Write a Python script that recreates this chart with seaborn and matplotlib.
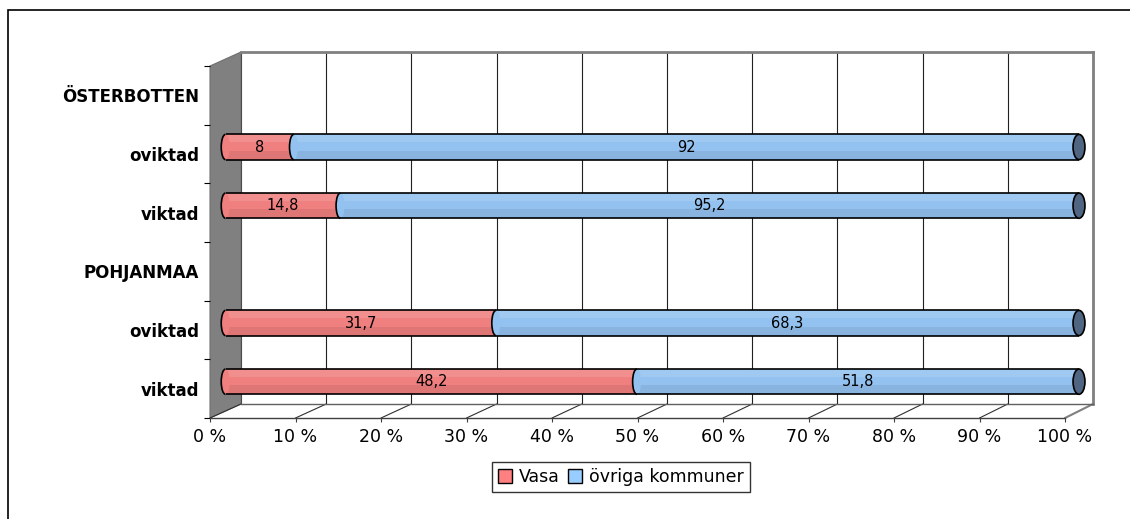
import matplotlib.pyplot as plt
import seaborn as sns
import pandas as pd
import numpy as np
from matplotlib.patches import Polygon, Ellipse, Arc, Rectangle, Patch
from matplotlib.lines import Line2D

# rows top to bottom (empty rows are group headers)
rows = ['r0', 'r1', 'r2', 'r3', 'r4', 'r5']
row_labels = ['ÖSTERBOTTEN', 'oviktad', 'viktad', 'POHJANMAA', 'oviktad', 'viktad']
vasa = [None, 8, 14.8, None, 31.7, 48.2]
ovriga = [None, 92, 95.2, None, 68.3, 51.8]
series = ['Vasa', 'övriga kommuner']
x_ticks = list(range(0, 101, 10))
x_ticklabels = [str(t) + ' %' for t in x_ticks]

red = '#F08080'
blue = '#93C2F0'
cap_col = '#4F6582'

df = pd.DataFrame({'row': rows, 'vasa': vasa, 'ovriga': ovriga}).dropna()
df['total'] = 100.0
df['vasa_pct'] = df['vasa'] / (df['vasa'] + df['ovriga']) * 100

sns.set_style('white')
plt.rcParams['font.family'] = ['DejaVu Sans']
plt.rcParams['text.color'] = 'black'
plt.rcParams['xtick.color'] = 'black'
plt.rcParams['ytick.color'] = 'black'

W, H = 1130, 519
fig = plt.figure(figsize=(W / 100, H / 100), dpi=100)


def box(x0, x1, ytop, ybot):
    return [x0 / W, 1 - ybot / H, (x1 - x0) / W, (ybot - ytop) / H]


ax_back = fig.add_axes(box(241, 1093, 52, 404), zorder=0)
ax_front = fig.add_axes(box(210, 1065, 66, 418), zorder=1)
ax = fig.add_axes(box(225.5, 1079, 59, 411), zorder=2)

# back wall
ax_back.set_xlim(0, 100)
ax_back.set_ylim(0, 1)
ax_back.set_xticks(x_ticks)
ax_back.set_yticks([])
ax_back.tick_params(axis='x', length=0, labelbottom=False)
ax_back.grid(axis='x', color='#202020', lw=0.8)
ax_back.grid(axis='y', visible=False)
for s in ['top', 'right']:
    ax_back.spines[s].set_color('#808080')
    ax_back.spines[s].set_linewidth(2)
ax_back.spines['bottom'].set_color('#606060')
ax_back.spines['bottom'].set_linewidth(1)
ax_back.spines['left'].set_visible(False)

# front plane: tick labels
ax_front.patch.set_visible(False)
ax_front.set_xlim(0, 100)
ax_front.set_ylim(len(rows) - 0.5, -0.5)
ax_front.set_xticks(x_ticks)
ax_front.set_xticklabels(x_ticklabels, fontsize=12.5)
ax_front.tick_params(axis='x', direction='out', length=3, width=0.8, color='#404040', pad=4, bottom=True)
ax_front.set_yticks(np.arange(len(rows) + 1) - 0.5)
ax_front.set_yticklabels([])
ax_front.set_yticks(np.arange(len(rows)), minor=True)
ax_front.set_yticklabels(row_labels, minor=True, fontsize=12, fontweight='bold')
ax_front.tick_params(axis='y', which='major', direction='out', length=4.5, width=0.8, color='k', left=True)
ax_front.tick_params(axis='y', which='minor', length=0, pad=8, left=True)
for s in ['top', 'right', 'left']:
    ax_front.spines[s].set_visible(False)
ax_front.spines['bottom'].set_color('#404040')
ax_front.spines['bottom'].set_linewidth(1)

to_fig = fig.transFigure.inverted()


def fpt(axis, x, y):
    return to_fig.transform(axis.get_xaxis_transform().transform((x, y)))


# grey side wall
wall = Polygon([fpt(ax_front, 0, 0), fpt(ax_front, 0, 1), fpt(ax_back, 0, 1), fpt(ax_back, 0, 0)],
               closed=True, fc='#808080', ec='#707070', lw=0.8,
               transform=fig.transFigure, clip_on=False)
ax_back.add_artist(wall)
# floor lines
for t in x_ticks:
    p0, p1 = fpt(ax_front, t, 0), fpt(ax_back, t, 0)
    c = '#808080' if t == 100 else '#303030'
    ax_back.add_artist(Line2D([p0[0], p1[0]], [p0[1], p1[1]], color=c, lw=0.8 if t < 100 else 1.5,
                              transform=fig.transFigure, clip_on=False))

# bars
bw = 0.43
sns.barplot(data=df, y='row', x='total', order=rows, color=blue, saturation=1, width=bw,
            edgecolor='none', orient='h', ax=ax)
sns.barplot(data=df, y='row', x='vasa_pct', order=rows, color=red, saturation=1, width=bw,
            edgecolor='none', orient='h', ax=ax)
ax.set_xlim(0, 100)
ax.set_ylim(len(rows) - 0.5, -0.5)
ax.axis('off')

ew = 1.0
h = bw / 2


def fmt(v):
    return ('%g' % v).replace('.', ',')


for _, r in df.iterrows():
    i = rows.index(r['row'])
    v = r['vasa_pct']
    # subtle shading
    ax.add_patch(Rectangle((0, i - h), 100, bw * 0.3, fc='white', alpha=0.12, lw=0, zorder=2))
    ax.add_patch(Rectangle((0, i + h * 0.3), 100, bw * 0.35, fc='black', alpha=0.07, lw=0, zorder=2))
    ax.add_patch(Ellipse((0, i), ew, bw, fc=red, ec='none', zorder=3, clip_on=False))
    ax.add_patch(Arc((0, i), ew, bw, theta1=90, theta2=270, color='k', lw=1.2, zorder=5, clip_on=False))
    ax.add_patch(Ellipse((v, i), ew, bw, fc=blue, ec='none', zorder=3))
    ax.add_patch(Arc((v, i), ew, bw, theta1=90, theta2=270, color='k', lw=1.2, zorder=5))
    ax.hlines([i - h, i + h], 0, 100, color='k', lw=1.2, zorder=5)
    ax.add_patch(Ellipse((100, i), ew * 1.4, bw, fc=cap_col, ec='k', lw=1.2, zorder=6, clip_on=False))
    ax.text(v / 2, i, fmt(r['vasa']), ha='center', va='center', fontsize=10.5, zorder=7)
    ax.text(v + (100 - v) / 2, i, fmt(r['ovriga']), ha='center', va='center', fontsize=10.5, zorder=7)

# legend
handles = [Patch(fc='#FF8080', ec='k'), Patch(fc='#99CCFF', ec='k')]
leg = fig.legend(handles=handles, labels=series, loc='center', bbox_to_anchor=(621 / W, 1 - 477 / H),
                 ncol=2, frameon=True, fancybox=False, edgecolor='black', fontsize=12.5,
                 handlelength=0.8, handleheight=0.8, handletextpad=0.4, columnspacing=0.5,
                 borderpad=0.35, borderaxespad=0)
leg.get_frame().set_linewidth(1)

# outer chart border
fig.patches.append(Rectangle((8 / W, -0.1), 1.2, 1.1 - 10 / H, transform=fig.transFigure,
                             fill=False, ec='black', lw=1.2))

fig.savefig('out.png', dpi=100)
